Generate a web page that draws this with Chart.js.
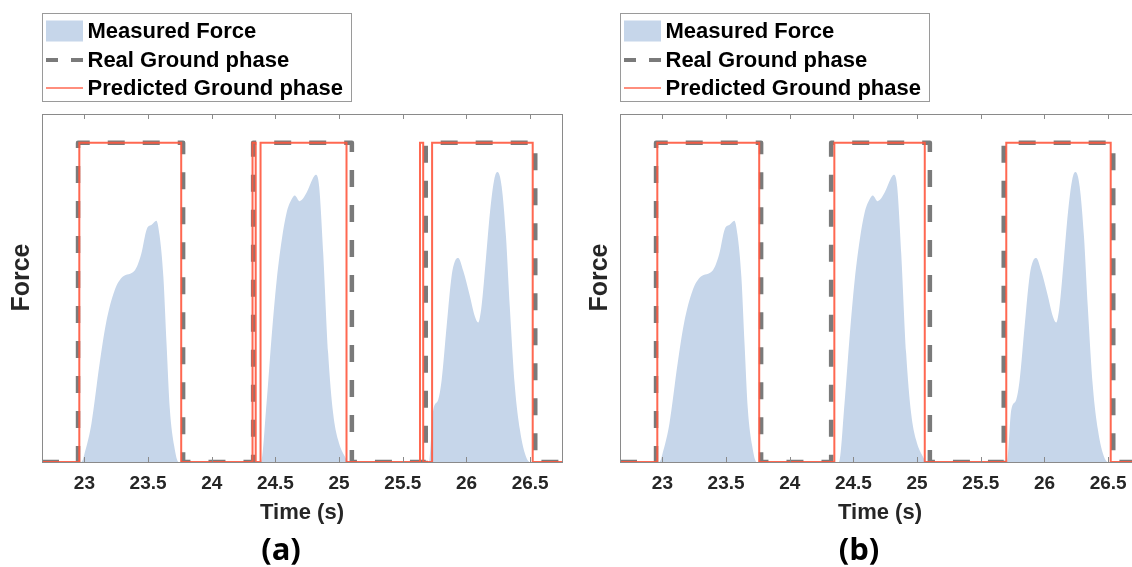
<!DOCTYPE html>
<html><head><meta charset="utf-8">
<script src="https://cdn.jsdelivr.net/npm/chart.js@4/dist/chart.umd.min.js"></script>
<style>
html,body{margin:0;padding:0;background:#fff;overflow:hidden;width:1132px;height:567px;position:relative;}
.panel{position:absolute;top:0;width:574px;height:567px;}
canvas{display:block;}
</style></head><body>
<div class="panel" style="left:0px"><canvas id="ca" width="574" height="567"></canvas></div>
<div class="panel" style="left:578px"><canvas id="cb" width="574" height="567"></canvas></div>
<script>
// ---- data ----
const panelTitles = ['(a)', '(b)'];
const seriesNames = ['Measured Force', 'Real Ground phase', 'Predicted Ground phase'];
const xTickValues = [23, 23.5, 24, 24.5, 25, 25.5, 26, 26.5];
const xTickLabels = ['23', '23.5', '24', '24.5', '25', '25.5', '26', '26.5'];
const xMin = 22.667, xMax = 26.75;
const yMin = 0, yMax = 1.09;

const forceTime = [
  22.667, 22.975, 23.01, 23.055, 23.12, 23.17, 23.235, 23.30, 23.395, 23.445,
  23.49, 23.53, 23.565, 23.59, 23.62, 23.645, 23.67, 23.705, 23.74,
  24.385, 24.43, 24.47, 24.51, 24.55, 24.587, 24.626, 24.652, 24.69, 24.744,
  24.796, 24.817, 24.843, 24.875, 24.914, 24.953, 24.992, 25.045, 25.075,
  25.705, 25.739, 25.778, 25.805, 25.844, 25.883, 25.909, 25.935, 25.974, 26.027,
  26.066, 26.092, 26.118, 26.152, 26.184, 26.218, 26.244, 26.276, 26.31, 26.34,
  26.38, 26.42, 26.459, 26.50, 26.75
];
const forceValue = [
  0, 0, 0.04, 0.12, 0.31, 0.435, 0.535, 0.58, 0.60, 0.65,
  0.73, 0.744, 0.756, 0.71, 0.58, 0.37, 0.17, 0.05, 0,
  0, 0.184, 0.393, 0.571, 0.697, 0.78, 0.822, 0.835, 0.817, 0.843,
  0.89, 0.90, 0.864, 0.655, 0.34, 0.153, 0.069, 0.017, 0,
  0, 0.163, 0.195, 0.257, 0.425, 0.582, 0.629, 0.639, 0.60, 0.519,
  0.456, 0.437, 0.487, 0.634, 0.78, 0.885, 0.908, 0.864, 0.707, 0.487,
  0.236, 0.10, 0.027, 0, 0
];

// rising / falling edge times of the ground-phase signals
const realEdges  = [22.95, 23.775, 24.325, 25.10, 25.68, 26.54];
const predEdgesA = [22.96, 23.76, 24.32, 24.345, 24.383, 25.058, 25.635, 25.66, 25.73, 26.52];
const predEdgesB = [22.96, 23.76, 24.35, 25.06, 25.70, 26.52];

// ---- styles ----
const FONT = "'Liberation Sans', Arial, sans-serif";
const forceColor = 'rgb(198,214,234)';
const realColor = '#7a7a7a';
const predColor = 'rgba(255,88,62,0.9)';
const axisColor = '#262626';

function stepPoints(edges) {
  const pts = [{x: xMin, y: 0}];
  edges.forEach((e, i) => {
    const rising = i % 2 === 0;
    pts.push({x: e, y: rising ? 0 : 1});
    pts.push({x: e, y: rising ? 1 : 0});
  });
  pts.push({x: xMax, y: 0});
  return pts;
}

const framePlugin = {
  id: 'frame',
  afterDatasetsDraw(chart) {
    const {ctx, chartArea: a, scales: {x}} = chart;
    ctx.save();
    ctx.strokeStyle = '#8a8a8a';
    ctx.lineWidth = 1;
    ctx.strokeRect(a.left + 0.5, a.top + 0.5, a.right - a.left, a.bottom - a.top);
    ctx.beginPath();
    xTickValues.forEach(v => {
      const px = Math.round(x.getPixelForValue(v)) + 0.5;
      ctx.moveTo(px, a.bottom); ctx.lineTo(px, a.bottom - 5);
      ctx.moveTo(px, a.top); ctx.lineTo(px, a.top + 5);
    });
    ctx.stroke();
    ctx.restore();
  },
  afterDraw(chart) {
    const {ctx} = chart;
    const ds = chart.data.datasets;
    const byLabel = l => ds.find(d => d.label === l);
    ctx.save();
    const bx = 42.5, by = 13.5, bw = 309, bh = 88;
    ctx.fillStyle = '#fff';
    ctx.fillRect(bx, by, bw, bh);
    ctx.strokeStyle = '#9a9a9a';
    ctx.lineWidth = 1;
    ctx.strokeRect(bx, by, bw, bh);
    const rows = [31, 60, 88];
    const sx0 = 46, sx1 = 83;
    const f = byLabel(seriesNames[0]);
    ctx.fillStyle = f.backgroundColor;
    ctx.fillRect(sx0, rows[0] - 10.5, sx1 - sx0, 21);
    const r = byLabel(seriesNames[1]);
    ctx.strokeStyle = r.borderColor;
    ctx.lineWidth = 4;
    ctx.setLineDash([12, 13]);
    ctx.beginPath(); ctx.moveTo(sx0, rows[1]); ctx.lineTo(sx1, rows[1]); ctx.stroke();
    ctx.setLineDash([]);
    const p = byLabel(seriesNames[2]);
    ctx.strokeStyle = p.borderColor;
    ctx.lineWidth = 1.5;
    ctx.beginPath(); ctx.moveTo(sx0, rows[2]); ctx.lineTo(sx1, rows[2]); ctx.stroke();
    ctx.fillStyle = '#000';
    ctx.font = 'bold 22px ' + FONT;
    ctx.textBaseline = 'middle';
    ctx.textAlign = 'left';
    seriesNames.forEach((n, i) => ctx.fillText(n, 87.5, rows[i] + 1));
    ctx.restore();
  }
};

function makeChart(id, predEdges, title) {
  const forceData = forceTime.map((t, i) => ({x: t, y: forceValue[i]}));
  return new Chart(document.getElementById(id), {
    type: 'line',
    data: {
      datasets: [
        {label: seriesNames[2], data: stepPoints(predEdges), borderColor: predColor, borderWidth: 2,
         pointRadius: 0, tension: 0, fill: false, order: 0},
        {label: seriesNames[1], data: stepPoints(realEdges), borderColor: realColor, borderWidth: 4.5,
         borderDash: [17, 18], borderJoinStyle: 'round', pointRadius: 0, tension: 0, fill: false, order: 1},
        {label: seriesNames[0], data: forceData, backgroundColor: forceColor, borderColor: forceColor,
         borderWidth: 0, pointRadius: 0, cubicInterpolationMode: 'monotone', fill: 'origin', order: 2}
      ]
    },
    options: {
      responsive: false,
      animation: false,
      events: [],
      layout: {padding: {top: 114, right: 12, left: 0, bottom: 0}},
      scales: {
        x: {
          type: 'linear', min: xMin, max: xMax,
          afterBuildTicks: s => { s.ticks = xTickValues.map(v => ({value: v})); },
          afterFit: s => { s.height = 74; },
          ticks: {
            callback: v => xTickLabels[xTickValues.indexOf(v)],
            font: {family: FONT, size: 19, weight: 'bold'}, color: axisColor,
            padding: 2, maxRotation: 0, autoSkip: false
          },
          grid: {display: false}, border: {display: false},
          title: {display: true, text: 'Time (s)', color: axisColor,
                  font: {family: FONT, size: 22, weight: 'bold'}, padding: {top: 0, bottom: 10}}
        },
        y: {
          type: 'linear', min: yMin, max: yMax,
          afterFit: s => { s.width = 42; },
          ticks: {display: false},
          grid: {display: false}, border: {display: false},
          title: {display: true, text: '   Force', color: axisColor,
                  font: {family: FONT, size: 25, weight: 'bold'}, padding: {top: 7, bottom: 0}}
        }
      },
      plugins: {
        legend: {display: false},
        tooltip: {enabled: false},
        title: {display: true, position: 'bottom', text: title, color: '#000',
                font: {family: "'Open Sans', 'Noto Sans', sans-serif", size: 31, weight: 'bold', lineHeight: 1.0}, padding: 0}
      }
    },
    plugins: [framePlugin]
  });
}

makeChart('ca', predEdgesA, panelTitles[0]);
makeChart('cb', predEdgesB, panelTitles[1]);
</script>
</body></html>
